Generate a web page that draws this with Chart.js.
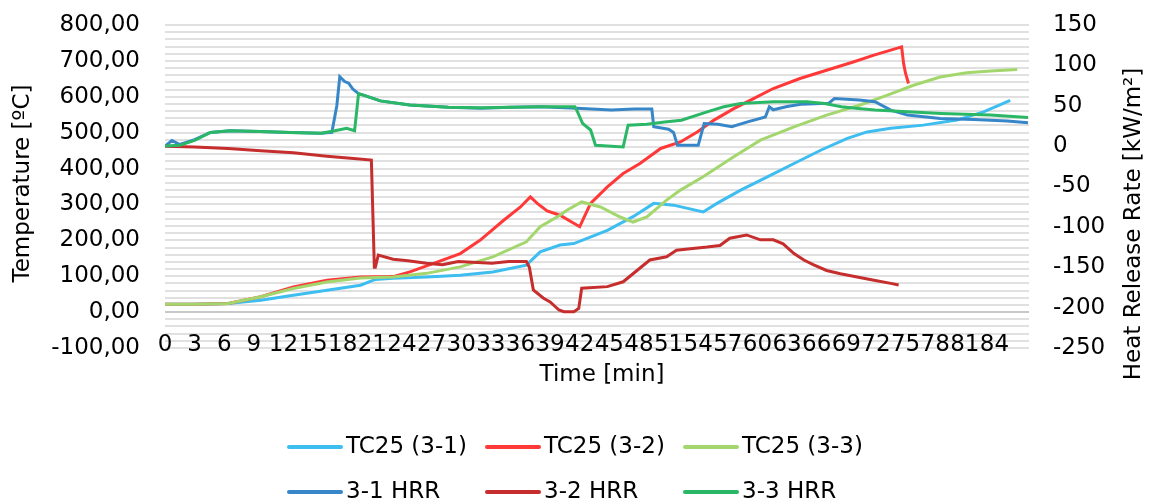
<!DOCTYPE html>
<html>
<head>
<meta charset="utf-8">
<title>TC25 / HRR</title>
<script src="https://cdn.jsdelivr.net/npm/chart.js@4/dist/chart.umd.min.js"></script>
<style>
  html, body { margin: 0; padding: 0; background: #fff; }
</style>
</head>
<body>
<canvas id="chart" width="1154" height="502"></canvas>
<script>
// [time in min, value] pairs
const tc25_31 = [[0,22],[3,22],[6.4,24],[9.7,33],[13,47],[16.4,61],[19.8,75],[21.3,91],[23.1,94],[26.5,98],[29.9,103],[33.2,112],[36.6,131],[38,168],[40,187],[41.4,191],[44.8,228],[47.4,266],[49.5,303],[51.5,298],[54.5,279],[55.9,303],[58.3,340],[61,377],[63.7,414],[66.4,451],[69.1,484],[71.1,502],[73.5,512],[76.8,521],[80.2,535],[82.9,558],[85.6,590]];
const tc25_32 = [[0,22],[3,22],[6.4,24],[9.7,43],[13,70],[16.4,89],[19.8,98],[23.1,99],[24.8,112],[27.2,136],[29.9,163],[31.9,200],[34.3,256],[36,293],[37,321],[37.7,303],[38.7,282],[40,270],[42,238],[43.1,303],[44.8,349],[46.4,386],[48.1,414],[50.2,456],[52.2,474],[53.9,502],[55.6,535],[57.6,567],[59.6,595],[61.6,623],[64.3,651],[67,674],[69.7,697],[71.8,716],[73.5,730],[74.6,739],[74.8,693],[75,665],[75.3,637]];
const tc25_33 = [[0,22],[3,22],[6.4,24],[9.7,43],[13,66],[16.4,84],[19.8,95],[23.1,98],[26.5,108],[29.9,126],[33.2,154],[36.6,196],[38,238],[40,270],[40.7,284],[42.2,307],[44.1,293],[46.1,265],[47.4,251],[48.8,265],[50.8,312],[52.2,340],[54.5,377],[57.6,433],[60.3,479],[63.7,516],[67,549],[70.4,577],[73.1,604],[75.8,632],[78.5,655],[81.2,667],[83.6,672],[86.3,676]];

const hrr31 = [[0,0],[0.7,7],[1.5,2],[3,8],[4.6,17],[6.6,19],[9.6,18],[12.7,17],[15.8,16],[16.9,17],[17.4,50],[17.7,86],[18.2,80],[18.6,78],[19,71],[19.6,65],[20.4,62],[21.8,56],[24.8,51],[28.7,48],[32,47],[35,48],[38,48.7],[41.7,47],[45.2,44.6],[47.5,46],[49.3,46],[49.5,24],[51,21],[51.5,17],[51.9,1],[54,1],[54.6,28],[56,27],[57.4,24],[59,30],[60.8,36],[61.2,48.7],[61.6,45],[63,49],[64.4,51.8],[67.2,53],[67.8,59],[70.3,57],[71.9,55],[73.5,44.6],[75.2,38.4],[78.5,34.3],[81.9,33],[85.3,31],[87.4,29]];
const hrr32 = [[0,0],[3,-1],[6.4,-2.9],[9.7,-5.8],[13,-8.2],[16.4,-12.4],[19.1,-15.3],[20.9,-17.3],[21.2,-150],[21.3,-150],[21.6,-135],[23.1,-140],[24.6,-142],[26.5,-145],[28.1,-147],[29.7,-143],[33.1,-145],[34.8,-143],[36.6,-143],[36.9,-150],[37.3,-178],[38.3,-188],[39,-193],[39.9,-203],[40.4,-205],[41.4,-205],[41.9,-201],[42.2,-176],[44.8,-174],[46.4,-168],[47.8,-154],[49.1,-141],[50.8,-137],[51.8,-129],[53.2,-127],[54.9,-125],[56.2,-123],[57.2,-114],[58.9,-110],[60.3,-116],[61.6,-116],[62.6,-121],[63.7,-133],[64.7,-141],[65.7,-147],[67,-154],[68.4,-158],[70.1,-162],[71.8,-166],[73.5,-170],[74.3,-172]];
const hrr33 = [[0,0],[1.5,1],[3,7],[4.6,17],[6.6,19],[9.6,18],[12.7,17],[15.8,16],[17.2,19],[18.4,22],[19.2,19],[19.6,65],[20.4,62],[21.8,56],[24.8,51],[28.7,48],[32,47.5],[35,48],[38,48.7],[41.5,48.7],[41.7,44.6],[42.3,28],[43.1,20],[43.6,1],[46.4,-1],[46.9,26],[48.8,27],[50.6,30],[52.3,32],[54.9,42.5],[56.6,48.7],[58.3,52.8],[61.6,55],[65,55],[66.8,52.8],[68.5,48.7],[70.2,46.6],[71.9,44.6],[75.2,42.5],[78.6,40.5],[83.6,38.4],[87.4,35.5]];

const xTickLabels = [0,3,6,9,12,15,18,21,24,27,30,33,36,39,42,45,48,51,54,57,60,63,66,69,72,75,78,81,84];

const series = [
  { label: 'TC25 (3-1)', data: tc25_31, color: '#3dbdf0', axis: 'yTemp' },
  { label: 'TC25 (3-2)', data: tc25_32, color: '#ff3838', axis: 'yTemp' },
  { label: 'TC25 (3-3)', data: tc25_33, color: '#a3d76e', axis: 'yTemp' },
  { label: '3-1 HRR', data: hrr31, color: '#3787c8', axis: 'yHrr' },
  { label: '3-2 HRR', data: hrr32, color: '#c62e2e', axis: 'yHrr' },
  { label: '3-3 HRR', data: hrr33, color: '#2bb866', axis: 'yHrr' }
];

const FONT = '"DejaVu Sans", Verdana, sans-serif';
Chart.defaults.font.family = FONT;
Chart.defaults.font.size = 23;
Chart.defaults.color = '#000';

// fixed box sizes so the plot area lands at 165..1029 x 25..348
const fixWidth = w => s => { s.width = w; s.paddingTop = 0; s.paddingBottom = 0; };

// axis titles + legend laid out in a fixed 3-column grid
const decorations = {
  id: 'decorations',
  afterDraw(chart) {
    const { ctx, chartArea: a } = chart;
    ctx.save();
    ctx.fillStyle = '#000';
    ctx.font = '23px ' + FONT;
    ctx.textAlign = 'center';
    ctx.textBaseline = 'middle';
    ctx.fillText('Time [min]', (a.left + a.right) / 2 + 5, 375);

    ctx.save();
    ctx.translate(23, (a.top + a.bottom) / 2 - 3);
    ctx.rotate(-Math.PI / 2);
    ctx.fillText('Temperature [ºC]', 0, 0);
    ctx.restore();

    ctx.save();
    ctx.translate(1134, 224);
    ctx.rotate(-Math.PI / 2);
    ctx.fillText('Heat Release Rate [kW/m²]', 0, 0);
    ctx.restore();

    const cols = [289, 487, 685];
    const rows = [447, 492];
    ctx.textAlign = 'left';
    series.forEach((s, i) => {
      const x = cols[i % 3];
      const y = rows[Math.floor(i / 3)];
      ctx.strokeStyle = s.color;
      ctx.lineWidth = 4;
      ctx.lineCap = 'round';
      ctx.beginPath();
      ctx.moveTo(x, y);
      ctx.lineTo(x + 52, y);
      ctx.stroke();
      ctx.fillText(s.label, x + 57, y);
    });
    ctx.restore();
  }
};

// the first dataset is drawn on top, so feed them in reverse
const datasets = series.map(s => ({
  label: s.label,
  data: s.data.map(([x, y]) => ({ x, y })),
  borderColor: s.color,
  borderWidth: 3,
  pointRadius: 0,
  yAxisID: s.axis
})).reverse();

new Chart(document.getElementById('chart'), {
  type: 'line',
  data: { datasets },
  options: {
    responsive: false,
    animation: false,
    devicePixelRatio: 1,
    layout: { padding: { top: 25 } },
    plugins: { legend: { display: false }, tooltip: { enabled: false } },
    scales: {
      x: {
        type: 'linear',
        min: 0,
        max: 87.5,
        grid: { display: false, drawTicks: false },
        border: { display: false },
        afterBuildTicks: s => { s.ticks = xTickLabels.map(v => ({ value: v })); },
        // mirrored so the labels sit just above the bottom edge
        ticks: { autoSkip: false, maxRotation: 0, mirror: true, padding: -11 },
        afterFit: s => { s.height = 154; }
      },
      yTemp: {
        position: 'left',
        min: -100,
        max: 800,
        afterFit: fixWidth(165),
        border: { display: false },
        grid: {
          drawTicks: false,
          color: c => c.tick && c.tick.value === 0 ? '#c8c8c8' : '#e0e0e0',
          lineWidth: 2
        },
        ticks: {
          stepSize: 20,
          autoSkip: false,
          padding: 25,
          callback: v => v % 100 === 0 ? v.toFixed(2).replace('.', ',') : ''
        }
      },
      yHrr: {
        position: 'right',
        min: -250,
        max: 150,
        afterFit: fixWidth(125),
        border: { display: false },
        grid: { display: false, drawTicks: false },
        ticks: { stepSize: 50, padding: 24 }
      }
    }
  },
  plugins: [decorations]
});
</script>
</body>
</html>
